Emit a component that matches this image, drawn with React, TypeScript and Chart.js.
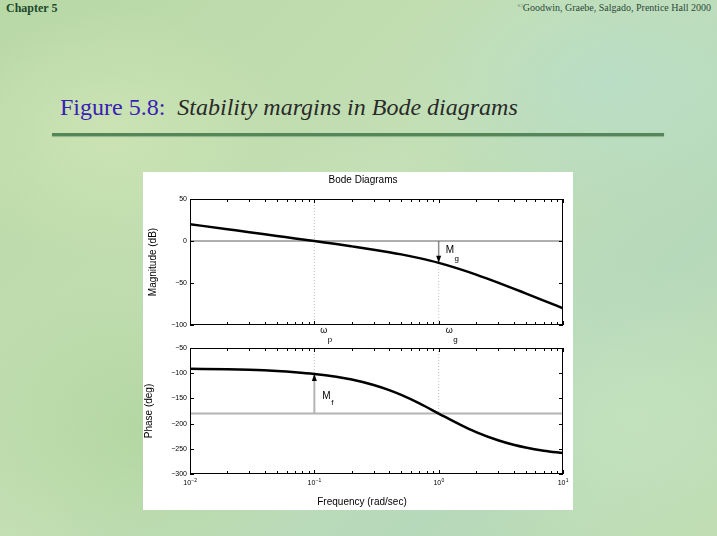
import React, { useEffect, useRef } from 'react';
import { Chart, registerables } from 'chart.js';

Chart.register(...registerables);

// ---- data ----
const freq = [0.01, 0.02, 0.03, 0.05, 0.07, 0.1, 0.15, 0.2, 0.3, 0.4, 0.5, 0.7, 1, 1.5, 2, 3, 4, 5, 7, 10];
const magnitudeDb = [20.0, 14.0, 10.5, 6.0, 3.1, -0.1, -3.7, -6.4, -10.3, -13.3, -15.9, -20.4, -26.0, -33.8, -40.0, -49.5, -56.6, -62.3, -70.9, -80.1];
const phaseDeg = [-91.1, -92.3, -93.4, -95.7, -98.0, -101.4, -107.1, -112.6, -123.4, -133.6, -143.1, -159.9, -180.0, -202.6, -216.9, -233.1, -242.0, -247.4, -253.7, -258.6];
const magTicks = [50, 0, -50, -100];
const phaseTicks = [-50, -100, -150, -200, -250, -300];
const decadeTicks = [0.01, 0.1, 1, 10];
const decadeExponents = ['\u22122', '\u22121', '0', '1'];
const wp = 0.1; // phase crossover (|G| = 0 dB)
const wg = 1; // gain crossover (phase = -180)
const magAtWg = -26.0;
const phaseAtWp = -101.4;
const refPhase = -180;

const SANS = '"Liberation Sans", Arial, Helvetica, sans-serif';
const SERIF = '"Liberation Serif", "Times New Roman", Times, serif';

const minusFmt = (v: any) => String(v).replace('-', '\u2212');

function drawFrame(chart: any, yTicks: number[]) {
  const { ctx, chartArea: a, scales } = chart;
  const x = scales.x;
  const y = scales.y;
  ctx.save();
  ctx.strokeStyle = '#000';
  ctx.lineWidth = 1;
  ctx.strokeRect(a.left + 0.5, a.top + 0.5, a.right - a.left - 1, a.bottom - a.top - 1);
  ctx.beginPath();
  for (let d = 0; d < decadeTicks.length; d++) {
    const base = decadeTicks[d];
    const maxM = d === decadeTicks.length - 1 ? 1 : 9;
    for (let m = 1; m <= maxM; m++) {
      const px = Math.round(x.getPixelForValue(base * m)) + 0.5;
      const L = m === 1 ? 4 : 3;
      ctx.moveTo(px, a.top);
      ctx.lineTo(px, a.top + L);
      ctx.moveTo(px, a.bottom);
      ctx.lineTo(px, a.bottom - L);
    }
  }
  for (const t of yTicks) {
    const py = Math.round(y.getPixelForValue(t)) + 0.5;
    ctx.moveTo(a.left, py);
    ctx.lineTo(a.left + 4, py);
    ctx.moveTo(a.right, py);
    ctx.lineTo(a.right - 4, py);
  }
  ctx.stroke();
  ctx.restore();
}

function arrowHead(ctx: CanvasRenderingContext2D, px: number, py: number, dir: number) {
  ctx.beginPath();
  ctx.moveTo(px, py);
  ctx.lineTo(px - 2.5, py - dir * 7);
  ctx.lineTo(px + 2.5, py - dir * 7);
  ctx.closePath();
  ctx.fillStyle = '#000';
  ctx.fill();
}

function subLabel(ctx: CanvasRenderingContext2D, px: number, py: number, main: string, sub: string, mainSize: number, subSize: number, dy: number) {
  ctx.textAlign = 'left';
  ctx.textBaseline = 'alphabetic';
  ctx.fillStyle = '#000';
  ctx.font = `${mainSize}px ${SANS}`;
  ctx.fillText(main, px, py);
  const w = ctx.measureText(main).width;
  ctx.font = `${subSize}px ${SANS}`;
  ctx.fillText(sub, px + w + 0.5, py + dy);
}

function supLabel(ctx: CanvasRenderingContext2D, cx: number, baseY: number, main: string, exp: string) {
  ctx.textAlign = 'left';
  ctx.textBaseline = 'alphabetic';
  ctx.fillStyle = '#000';
  ctx.font = `7px ${SANS}`;
  const w1 = ctx.measureText(main).width;
  ctx.font = `5px ${SANS}`;
  const w2 = ctx.measureText(exp).width;
  const x0 = cx - (w1 + w2) / 2;
  ctx.font = `7px ${SANS}`;
  ctx.fillText(main, x0, baseY);
  ctx.font = `5px ${SANS}`;
  ctx.fillText(exp, x0 + w1 + 0.3, baseY - 3);
}

const line = (pts: { x: number; y: number }[], color: string, width: number, dash: number[] = []) => ({
  data: pts,
  borderColor: color,
  borderWidth: width,
  borderDash: dash,
  pointRadius: 0,
  fill: false,
});

export default function App() {
  const c1 = useRef<HTMLCanvasElement>(null);
  const c2 = useRef<HTMLCanvasElement>(null);

  useEffect(() => {
    document.body.style.margin = '0';

    const magPlugin = {
      id: 'magDeco',
      afterDatasetsDraw(chart: any) {
        const { ctx, scales } = chart;
        const x = scales.x;
        const y = scales.y;
        drawFrame(chart, magTicks);
        ctx.save();
        const gx = x.getPixelForValue(wg);
        arrowHead(ctx, gx, y.getPixelForValue(magAtWg), 1);
        subLabel(ctx, gx + 7, y.getPixelForValue(0) + 12, 'M', 'g', 10, 8, 8);
        ctx.font = `10px ${SANS}`;
        ctx.textAlign = 'center';
        ctx.textBaseline = 'middle';
        ctx.fillStyle = '#000';
        ctx.fillText('Bode Diagrams', 220, 8);
        ctx.restore();
      },
    };

    const phasePlugin = {
      id: 'phaseDeco',
      afterDatasetsDraw(chart: any) {
        const { ctx, scales, chartArea: a } = chart;
        const x = scales.x;
        const y = scales.y;
        drawFrame(chart, phaseTicks);
        ctx.save();
        const px = x.getPixelForValue(wp);
        arrowHead(ctx, px, y.getPixelForValue(phaseAtWp), -1);
        subLabel(ctx, px + 8, y.getPixelForValue(refPhase) - 15, 'M', 'f', 10, 8, 6);
        subLabel(ctx, x.getPixelForValue(wp) + 6, a.top - 15, '\u03C9', 'p', 9, 8, 9);
        subLabel(ctx, x.getPixelForValue(wg) + 7, a.top - 15, '\u03C9', 'g', 9, 8, 9);
        decadeTicks.forEach((v, i) => supLabel(ctx, x.getPixelForValue(v), a.bottom + 11, '10', decadeExponents[i]));
        ctx.font = `10px ${SANS}`;
        ctx.textAlign = 'center';
        ctx.textBaseline = 'middle';
        ctx.fillStyle = '#000';
        ctx.fillText('Frequency (rad/sec)', 219, 175);
        ctx.restore();
      },
    };

    const yAxis = (min: number, max: number, title: string, titlePadTop: number) => ({
      type: 'linear',
      min,
      max,
      grid: { display: false, drawTicks: false },
      border: { display: false },
      ticks: { stepSize: 50, font: { size: 7, family: SANS }, color: '#000', padding: 3, callback: minusFmt },
      title: { display: true, text: title, font: { size: 10, family: SANS }, color: '#000', padding: { top: titlePadTop, bottom: 0 } },
      afterFit: (s: any) => {
        s.width = 47;
      },
    });

    const ch1 = new Chart(c1.current!, {
      type: 'line',
      data: {
        datasets: [
          { ...line(freq.map((f, i) => ({ x: f, y: magnitudeDb[i] })), '#000', 2.5), cubicInterpolationMode: 'monotone' } as any,
          line([{ x: 0.01, y: 0 }, { x: 10, y: 0 }], '#5e5e5e', 1),
          line([{ x: wg, y: 0 }, { x: wg, y: magAtWg }], '#8c8c8c', 1.5),
          line([{ x: wp, y: 50 }, { x: wp, y: -100 }], '#bdbdbd', 1, [1, 2]),
          line([{ x: wg, y: magAtWg }, { x: wg, y: -100 }], '#bdbdbd', 1, [1, 2]),
        ],
      },
      options: {
        responsive: false,
        animation: false,
        layout: { padding: { top: 27, right: 10, bottom: 10, left: 0 } },
        plugins: { legend: { display: false }, tooltip: { enabled: false } },
        scales: {
          x: { type: 'logarithmic', min: 0.01, max: 10, display: false },
          y: yAxis(-100, 50, 'Magnitude (dB)', 4) as any,
        },
      },
      plugins: [magPlugin],
    });

    const ch2 = new Chart(c2.current!, {
      type: 'line',
      data: {
        datasets: [
          { ...line(freq.map((f, i) => ({ x: f, y: phaseDeg[i] })), '#000', 2.5), cubicInterpolationMode: 'monotone' } as any,
          line([{ x: 0.01, y: refPhase }, { x: 10, y: refPhase }], '#b4b4b4', 2),
          line([{ x: wp, y: refPhase }, { x: wp, y: phaseAtWp }], '#b4b4b4', 2),
          line([{ x: wp, y: -50 }, { x: wp, y: phaseAtWp }], '#bdbdbd', 1, [1, 2]),
          line([{ x: wg, y: -50 }, { x: wg, y: refPhase }], '#bdbdbd', 1, [1, 2]),
        ],
      },
      options: {
        responsive: false,
        animation: false,
        layout: { padding: { top: 21, right: 10, bottom: 0, left: 0 } },
        plugins: { legend: { display: false }, tooltip: { enabled: false } },
        scales: {
          x: {
            type: 'logarithmic',
            min: 0.01,
            max: 10,
            grid: { display: false, drawTicks: false },
            border: { display: false },
            ticks: { display: false },
            afterFit: (s: any) => {
              s.height = 36;
            },
          } as any,
          y: yAxis(-300, -50, 'Phase (deg)', 0) as any,
        },
      },
      plugins: [phasePlugin],
    });

    return () => {
      ch1.destroy();
      ch2.destroy();
    };
  }, []);

  const bg =
    'radial-gradient(ellipse 260px 180px at 15% 25%, rgba(205,228,180,0.9), rgba(205,228,180,0) 70%),' +
    'radial-gradient(ellipse 300px 200px at 85% 15%, rgba(185,222,200,0.85), rgba(185,222,200,0) 70%),' +
    'radial-gradient(ellipse 260px 220px at 20% 80%, rgba(178,214,160,0.9), rgba(178,214,160,0) 70%),' +
    'radial-gradient(ellipse 280px 220px at 88% 78%, rgba(196,226,190,0.9), rgba(196,226,190,0) 70%),' +
    'radial-gradient(ellipse 220px 150px at 50% 45%, rgba(200,225,185,0.8), rgba(200,225,185,0) 70%),' +
    'linear-gradient(135deg, #b8d8a6 0%, #c3dfb4 45%, #b6d9bb 75%, #c0ddb0 100%)';

  return (
    <div style={{ position: 'relative', width: 717, height: 536, overflow: 'hidden', background: bg }}>
      <div style={{ position: 'absolute', left: 6, top: 1, font: `bold 12px ${SERIF}`, color: '#1c4a2c', lineHeight: '14px' }}>Chapter 5</div>
      <div style={{ position: 'absolute', right: 6, top: 1, font: `10px ${SERIF}`, color: '#2e4a3a', lineHeight: '14px', whiteSpace: 'nowrap' }}>
        <span style={{ fontSize: 7, verticalAlign: 'top', lineHeight: '10px' }}>©</span>Goodwin, Graebe, Salgado, Prentice Hall 2000
      </div>
      <div style={{ position: 'absolute', left: 60, top: 93, font: `24px ${SERIF}`, lineHeight: '28px', whiteSpace: 'nowrap' }}>
        <span style={{ color: '#3a20b8' }}>Figure 5.8:</span>
        <span style={{ color: '#2a2a2a', fontStyle: 'italic' }}>&nbsp; Stability margins in Bode diagrams</span>
      </div>
      <div style={{ position: 'absolute', left: 52, top: 133, width: 612, height: 3, background: '#55865a', boxShadow: '0 1px 1px rgba(120,160,120,0.7)' }} />
      <div style={{ position: 'absolute', left: 143, top: 172, width: 430, height: 338, background: '#fff' }} />
      <canvas ref={c1} width={430} height={163} style={{ position: 'absolute', left: 143, top: 172, width: 430, height: 163 }} />
      <canvas ref={c2} width={430} height={183} style={{ position: 'absolute', left: 143, top: 327, width: 430, height: 183 }} />
    </div>
  );
}
